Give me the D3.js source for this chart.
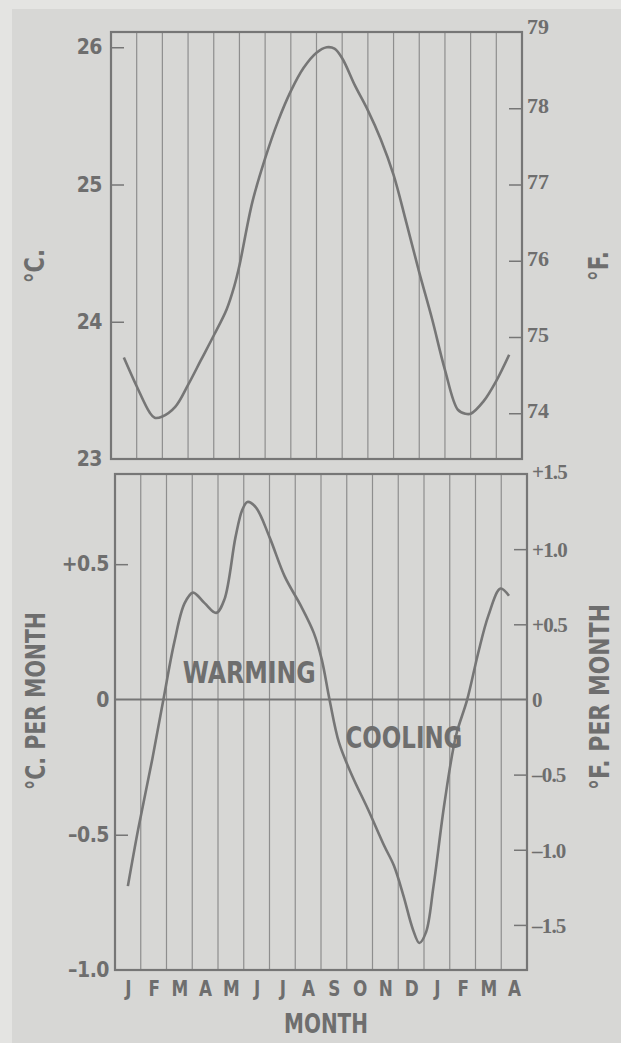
<!DOCTYPE html>
<html>
<head>
<meta charset="utf-8">
<script src="https://cdn.jsdelivr.net/npm/d3@7"></script>
<style>
  html, body { margin: 0; padding: 0; background: #e3e3e1; }
  svg { display: block; }
</style>
</head>
<body>
<svg id="chart" width="621" height="1043"></svg>
<script>
// ---------------- DATA ----------------
const monthLabels = ["J","F","M","A","M","J","J","A","S","O","N","D","J","F","M","A"];

// Upper panel: temperature (°C), x as month index (0 = first January, mid-month)
const tempMonthIdx = [0,0.5,1,1.2,1.5,2,2.5,3,3.5,4,4.3,4.5,5,5.5,6,6.5,7,7.5,7.9,8.2,8.5,9,9.5,10,10.5,11,11.5,12,12.5,13,13.3,13.5,14,14.5,15];
const tempC        = [23.74,23.53,23.34,23.30,23.31,23.38,23.54,23.72,23.90,24.09,24.26,24.41,24.87,25.19,25.46,25.68,25.85,25.96,26.00,25.99,25.92,25.72,25.54,25.33,25.07,24.72,24.36,24.02,23.65,23.36,23.33,23.33,23.42,23.57,23.76];

// Lower panel: rate of change (°C per month)
const rateMonthIdx = [0,0.4,0.95,1.38,1.8,2.2,2.53,2.98,3.43,3.75,4.18,4.44,4.64,4.97,5.5,6.09,6.73,7.22,7.53,7.83,8.2,8.7,9.32,9.95,10.33,10.7,11.07,11.32,11.58,11.87,12.3,12.74,13.18,13.6,14.0,14.47,14.8];
const rateC        = [-0.69,-0.48,-0.22,0,0.21,0.355,0.395,0.356,0.32,0.37,0.60,0.70,0.73,0.71,0.60,0.455,0.344,0.246,0.147,0,-0.16,-0.28,-0.405,-0.54,-0.614,-0.725,-0.85,-0.90,-0.86,-0.69,-0.38,-0.135,0,0.17,0.31,0.41,0.383];

// Tick values and labels
const topLeftTicks  = [23, 24, 25, 26];
const topRightTicks = [74, 75, 76, 77, 78, 79];
const botLeftTicks  = [-1.0, -0.5, 0, 0.5];
const botLeftLabels = ["\u20131.0", "\u20130.5", "0", "+0.5"];
const botRightTicks = [-1.5, -1.0, -0.5, 0, 0.5, 1.0, 1.5];
const botRightLabels= ["\u20131.5", "\u20131.0", "\u20130.5", "0", "+0.5", "+1.0", "+1.5"];

// Annotations (month index, °C/month)
const annoText = ["WARMING", "COOLING"];
const annoIdx  = [2.13, 8.45];
const annoVal  = [0.06, -0.18];

// ---------------- STYLE ----------------
const ink = "#767676";
const textInk = "#6e6e6e";
const gridInk = "#8e8e8e";
const sansNarrow = "'Liberation Sans Narrow', 'DejaVu Sans Condensed', sans-serif";
const serif = "'Liberation Serif', 'DejaVu Serif', serif";

const svg = d3.select("#chart");

// page background (scanned page look)
svg.append("rect").attr("x", 0).attr("y", 0).attr("width", 621).attr("height", 1043).attr("fill", "#e4e4e2");
svg.append("rect").attr("x", 12).attr("y", 9).attr("width", 609).attr("height", 1034).attr("fill", "#d7d7d5");

// ---------------- SCALES ----------------
const topBox = {left: 111, right: 522, top: 32, bottom: 459};
const botBox = {left: 115, right: 527, top: 474, bottom: 970};

const xTop = d3.scaleLinear().domain([-0.5, 15.5]).range([topBox.left, topBox.right]);
const xBot = d3.scaleLinear().domain([-0.5, 15.5]).range([botBox.left, botBox.right]);

const yTopC = d3.scaleLinear().domain([23, (79 - 32) / 1.8]).range([topBox.bottom, topBox.top]);
const yTopF = d3.scaleLinear().domain([23 * 1.8 + 32, 79]).range([topBox.bottom, topBox.top]);

const yBotC = d3.scaleLinear().domain([-1.0, 1.5 / 1.8]).range([botBox.bottom, botBox.top]);
const yBotF = d3.scaleLinear().domain([-1.8, 1.5]).range([botBox.bottom, botBox.top]);

const gridIdx = d3.range(0, 15).map(k => k + 0.5);

function panel(x, box) {
  const g = svg.append("g");
  g.selectAll("line.grid").data(gridIdx).enter().append("line")
    .attr("x1", d => x(d)).attr("x2", d => x(d))
    .attr("y1", box.top).attr("y2", box.bottom)
    .attr("stroke", gridInk).attr("stroke-width", 1.2);
  g.append("rect")
    .attr("x", box.left).attr("y", box.top)
    .attr("width", box.right - box.left).attr("height", box.bottom - box.top)
    .attr("fill", "none").attr("stroke", ink).attr("stroke-width", 2.2);
  return g;
}

// ---------------- TOP PANEL ----------------
panel(xTop, topBox);

const axTopL = svg.append("g").attr("transform", `translate(${topBox.left},0)`)
  .call(d3.axisLeft(yTopC).tickValues(topLeftTicks).tickFormat(d3.format("d")).tickSizeInner(-13).tickSizeOuter(0).tickPadding(9));
const axTopR = svg.append("g").attr("transform", `translate(${topBox.right},0)`)
  .call(d3.axisRight(yTopF).tickValues(topRightTicks).tickFormat(d3.format("d")).tickSizeInner(-13).tickSizeOuter(0).tickPadding(5));

const lineTop = d3.line().x((d, i) => xTop(tempMonthIdx[i])).y(d => yTopC(d)).curve(d3.curveCatmullRom.alpha(0.5));
svg.append("path").datum(tempC).attr("d", lineTop)
  .attr("fill", "none").attr("stroke", ink).attr("stroke-width", 2.6).attr("stroke-linejoin", "round");

// ---------------- BOTTOM PANEL ----------------
panel(xBot, botBox);

svg.append("line").attr("x1", botBox.left).attr("x2", botBox.right)
  .attr("y1", yBotC(0)).attr("y2", yBotC(0)).attr("stroke", ink).attr("stroke-width", 2);

const axBotL = svg.append("g").attr("transform", `translate(${botBox.left},0)`)
  .call(d3.axisLeft(yBotC).tickValues(botLeftTicks).tickFormat((d, i) => botLeftLabels[i]).tickSizeInner(-13).tickSizeOuter(0).tickPadding(6));
const axBotR = svg.append("g").attr("transform", `translate(${botBox.right},0)`)
  .call(d3.axisRight(yBotF).tickValues(botRightTicks).tickFormat((d, i) => botRightLabels[i]).tickSizeInner(-13).tickSizeOuter(0).tickPadding(5));

const lineBot = d3.line().x((d, i) => xBot(rateMonthIdx[i])).y(d => yBotC(d)).curve(d3.curveCatmullRom.alpha(0.5));
svg.append("path").datum(rateC).attr("d", lineBot)
  .attr("fill", "none").attr("stroke", ink).attr("stroke-width", 2.6).attr("stroke-linejoin", "round");

const axMonth = svg.append("g").attr("transform", `translate(0,${botBox.bottom})`)
  .call(d3.axisBottom(xBot).tickValues(d3.range(16)).tickFormat(i => monthLabels[i]).tickSize(0).tickPadding(10));

[axTopL, axTopR, axBotL, axBotR, axMonth].forEach(a => {
  a.select(".domain").remove();
  a.selectAll(".tick line").attr("stroke", ink).attr("stroke-width", 1.5);
  a.selectAll("text").attr("fill", textInk).attr("font-weight", "bold");
});
axTopL.selectAll(".tick line").filter(d => d === 23).remove();
axTopR.selectAll(".tick line").filter(d => d === 79).remove();
axBotL.selectAll(".tick line").filter(d => d === -1 || d === 0).remove();
axBotR.selectAll(".tick line").filter(d => d === 1.5 || d === 0).remove();

axTopL.selectAll("text").attr("font-family", sansNarrow).attr("font-size", 21).attr("letter-spacing", "-0.5px");
axBotL.selectAll("text").attr("font-family", sansNarrow).attr("font-size", 21).attr("letter-spacing", "-0.5px");
axTopR.selectAll("text").attr("font-family", serif).attr("font-size", 22).attr("dy", "0.2em");
axTopR.selectAll(".tick").filter(d => d === 79).select("text").attr("dy", "0.05em");
axBotR.selectAll("text").attr("font-family", serif).attr("font-size", 21).attr("letter-spacing", "-0.8px").attr("dy", "0.35em");
axBotR.selectAll(".tick").filter(d => d === 1.5).select("text").attr("dy", "0.2em");
axMonth.selectAll("text").attr("font-family", sansNarrow).attr("font-size", 22).attr("dy", "0.72em")
  .attr("transform", "scale(0.85,1)");

svg.selectAll("text.anno").data(annoText).enter().append("text")
  .attr("class", "anno")
  .attr("x", (d, i) => xBot(annoIdx[i]))
  .attr("y", (d, i) => yBotC(annoVal[i]))
  .attr("font-family", sansNarrow).attr("font-weight", "bold").attr("font-size", 31)
  .attr("fill", textInk)
  .attr("textLength", (d, i) => i === 0 ? 133 : 117).attr("lengthAdjust", "spacingAndGlyphs")
  .text(d => d);

function vtitle(txt, x, y, size, len) {
  const t = svg.append("text").attr("transform", `translate(${x},${y}) rotate(-90)`)
    .attr("text-anchor", "middle").attr("font-family", sansNarrow).attr("font-weight", "bold")
    .attr("font-size", size).attr("fill", textInk).text(txt);
  if (len) t.attr("textLength", len).attr("lengthAdjust", "spacingAndGlyphs");
}
vtitle("°C.", 44, 266, 27, 34);
vtitle("°F.", 608, 266, 27, 30);
vtitle("°C. PER MONTH", 45, 701, 27, 178);
vtitle("°F. PER MONTH", 609, 697, 27, 186);

svg.append("text").attr("x", (botBox.left + botBox.right) / 2 + 5).attr("y", 1033)
  .attr("text-anchor", "middle").attr("font-family", sansNarrow).attr("font-weight", "bold")
  .attr("font-size", 26).attr("fill", textInk)
  .attr("textLength", 84).attr("lengthAdjust", "spacingAndGlyphs")
  .text("MONTH");
</script>
</body>
</html>
